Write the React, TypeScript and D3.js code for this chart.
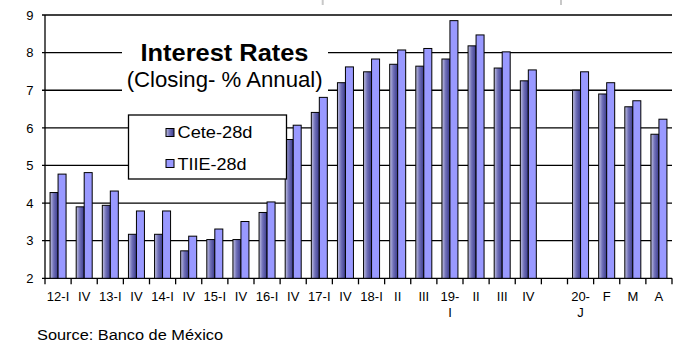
import React from "react";
import * as d3 from "d3";

const categories = ["12-I", "IV", "13-I", "IV", "14-I", "IV", "15-I", "IV", "16-I", "IV", "17-I", "IV", "18-I", "II", "III", "19-\nI", "II", "III", "IV", "", "20-\nJ", "F", "M", "A"];
const cete = [4.28, 3.9, 3.94, 3.17, 3.17, 2.73, 3.03, 3.03, 3.75, 5.69, 6.41, 7.2, 7.49, 7.69, 7.64, 7.83, 8.18, 7.59, 7.25, null, 7.0, 6.9, 6.56, 5.83];
const tiie = [4.77, 4.81, 4.32, 3.79, 3.79, 3.12, 3.31, 3.51, 4.03, 6.07, 6.81, 7.62, 7.83, 8.07, 8.11, 8.85, 8.47, 8.02, 7.54, null, 7.49, 7.2, 6.72, 6.23];
const yTicks = [2, 3, 4, 5, 6, 7, 8, 9];
const seriesNames = ["Cete-28d", "TIIE-28d"];

const W = 677, H = 343;
const left = 45, right = 672, top = 15, bottom = 278.3;
const font = "'Liberation Sans', Arial, sans-serif";

export default function App() {
  const idx = categories.map((_, i) => String(i));
  const x = d3.scaleBand<string>().domain(idx).range([left, right]);
  const y = d3.scaleLinear().domain([2, 9]).range([bottom, top]);
  const bw = 8;
  const bounds = d3.range(categories.length + 1).map(i => left + x.step() * i);

  return (
    <svg width={W} height={H} style={{ position: "absolute", left: 0, top: 0, background: "#fff" }}>
      <defs>
        <linearGradient id="ceteGrad" x1="0" x2="1" y1="0" y2="0">
          <stop offset="0%" stopColor="#c4c4e4" />
          <stop offset="45%" stopColor="#7070b8" />
          <stop offset="100%" stopColor="#3a3a8c" />
        </linearGradient>
      </defs>
      <rect x={0} y={0} width={W} height={H} fill="#fff" />
      {/* faint marks at top */}
      <line x1={322.7} x2={322.7} y1={0} y2={5} stroke="#c8c8c8" strokeWidth={2} />
      <line x1={561} x2={561} y1={0} y2={5} stroke="#c8c8c8" strokeWidth={2} />
      {/* gridlines */}
      {yTicks.map(t => (
        <line key={t} x1={left - 3} x2={right} y1={y(t)} y2={y(t)} stroke="#000" strokeWidth={1.3} />
      ))}
      {/* y axis */}
      <line x1={left} x2={left} y1={top} y2={bottom} stroke="#000" strokeWidth={1.3} />
      {yTicks.map(t => (
        <text key={"l" + t} x={33.5} y={y(t)} dy="0.36em" textAnchor="end" fontFamily={font} fontSize={13} fill="#000">{t}</text>
      ))}
      {/* x ticks */}
      {bounds.map((b, i) => (
        <line key={"xt" + i} x1={b} x2={b} y1={bottom} y2={bottom + 6} stroke="#000" strokeWidth={1.3} />
      ))}
      {/* bars */}
      {idx.map((k, i) => {
        const c = x(k)! + x.bandwidth() / 2;
        const out: any[] = [];
        if (cete[i] != null) {
          out.push(<rect key={"c" + i} x={c - bw} y={y(cete[i] as number)} width={bw} height={bottom - y(cete[i] as number)} fill="url(#ceteGrad)" stroke="#000" strokeWidth={1} />);
        }
        if (tiie[i] != null) {
          out.push(<rect key={"t" + i} x={c} y={y(tiie[i] as number)} width={bw} height={bottom - y(tiie[i] as number)} fill="#9999ff" stroke="#000" strokeWidth={1} />);
        }
        return out;
      })}
      {/* x labels */}
      {idx.map((k, i) => {
        const c = x(k)! + x.bandwidth() / 2;
        const lines = categories[i].split("\n");
        return (
          <text key={"xl" + i} x={c} y={300.5} textAnchor="middle" fontFamily={font} fontSize={13} fill="#000">
            {lines.map((ln, j) => (
              <tspan key={j} x={c} dy={j === 0 ? 0 : 16}>{ln}</tspan>
            ))}
          </text>
        );
      })}
      {/* title box */}
      <rect x={122} y={30} width={206} height={65} fill="#fff" />
      <text x={224.5} y={61} textAnchor="middle" fontFamily={font} fontWeight="bold" fontSize={24} textLength={168} lengthAdjust="spacingAndGlyphs" fill="#000">Interest Rates</text>
      <text x={224.7} y={86.5} textAnchor="middle" fontFamily={font} fontSize={22} textLength={196} lengthAdjust="spacingAndGlyphs" fill="#000">(Closing- % Annual)</text>
      {/* legend */}
      <rect x={128.5} y={115} width={158} height={64} fill="#fff" stroke="#000" strokeWidth={1.3} />
      <rect x={166} y={128.5} width={8} height={8} fill="url(#ceteGrad)" stroke="#000" strokeWidth={1} />
      <text x={177.5} y={137.5} fontFamily={font} fontSize={17} textLength={75} lengthAdjust="spacingAndGlyphs" fill="#000">{seriesNames[0]}</text>
      <rect x={166} y={159.5} width={8} height={8} fill="#9999ff" stroke="#000" strokeWidth={1} />
      <text x={177.5} y={170} fontFamily={font} fontSize={17} textLength={69} lengthAdjust="spacingAndGlyphs" fill="#000">{seriesNames[1]}</text>
      {/* source */}
      <text x={37} y={340} fontFamily={font} fontSize={14} textLength={186} lengthAdjust="spacingAndGlyphs" fill="#000">Source: Banco de México</text>
    </svg>
  );
}
